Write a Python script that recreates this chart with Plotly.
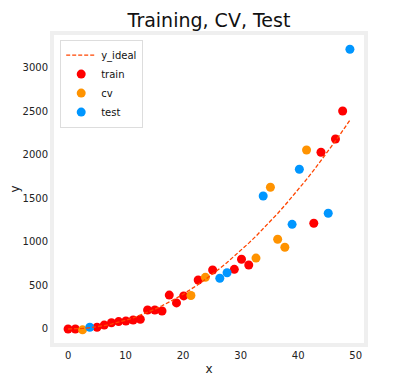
import plotly.graph_objects as go

# ---- data ----
x_train = [0.00, 1.26, 5.03, 6.28, 7.54, 8.79, 10.05, 11.31, 12.56, 13.82, 15.08, 16.33,
           17.59, 18.85, 20.10, 22.62, 25.13, 28.90, 30.15, 31.41, 42.72, 43.97, 46.49, 47.74]
y_train = [0, 0, 20, 45, 72, 85, 92, 103, 112, 218, 218, 207,
           390, 300, 380, 563, 678, 686, 801, 736, 1215, 2031, 2184, 2506]

x_cv = [2.51, 21.36, 23.87, 32.67, 35.18, 36.44, 37.69, 41.46]
y_cv = [-10, 385, 594, 815, 1629, 1031, 939, 2057]

x_test = [3.77, 26.38, 27.64, 33.92, 38.95, 40.21, 45.23, 49.00]
y_test = [20, 583, 647, 1529, 1203, 1836, 1330, 3215]

x_ideal = [0.00, 1.26, 2.51, 3.77, 5.03, 6.28, 7.54, 8.79, 10.05, 11.31, 12.56, 13.82,
           15.08, 16.33, 17.59, 18.85, 20.10, 21.36, 22.62, 23.87, 25.13, 26.38, 27.64,
           28.90, 30.15, 31.41, 32.67, 33.92, 35.18, 36.44, 37.69, 38.95, 40.21, 41.46,
           42.72, 43.97, 45.23, 46.49, 47.74, 49.00]
y_ideal = [0, 1.6, 6.3, 14.2, 25.3, 39.5, 56.8, 77.3, 101, 128, 158, 191,
           227, 267, 309, 355, 404, 456, 512, 570, 631, 696, 764,
           835, 909, 987, 1067, 1151, 1238, 1328, 1421, 1517, 1617, 1719,
           1825, 1934, 2046, 2161, 2279, 2401]

x_ticks = [0, 10, 20, 30, 40, 50]
y_ticks = [0, 500, 1000, 1500, 2000, 2500, 3000]

FONT = "DejaVu Sans"

fig = go.Figure()
fig.add_trace(go.Scatter(x=x_train, y=y_train, mode="markers", name="train",
                         marker=dict(color="#FF0000", size=9, line=dict(width=0)),
                         legendrank=2))
fig.add_trace(go.Scatter(x=x_cv, y=y_cv, mode="markers", name="cv",
                         marker=dict(color="#FF9300", size=9, line=dict(width=0)),
                         legendrank=3))
fig.add_trace(go.Scatter(x=x_test, y=y_test, mode="markers", name="test",
                         marker=dict(color="#0096FF", size=9, line=dict(width=0)),
                         legendrank=4))
fig.add_trace(go.Scatter(x=x_ideal, y=y_ideal, mode="lines", name="y_ideal",
                         line=dict(color="#FF4500", width=1.3, dash="4px,2px"),
                         legendrank=1))

axis_common = dict(showgrid=False, zeroline=False, ticks="", showline=True,
                   linecolor="#efefef", linewidth=4, mirror=True, automargin=False,
                   tickfont=dict(family=FONT, size=10, color="#222222"))

# The page body has an 8px default margin, so the figure is sized to fill the
# remaining 391x373 of the 399x381 window.
fig.update_layout(
    width=391, height=373,
    margin=dict(l=46, r=35, t=27, b=38),
    paper_bgcolor="white", plot_bgcolor="white",
    font=dict(family=FONT, color="#222222"),
    title=dict(text="Training, CV, Test", x=0.514, xanchor="center",
               y=0.967, yanchor="middle", automargin=False,
               font=dict(family=FONT, size=19, color="#111111")),
    xaxis=dict(range=[-2.45, 51.45], tickvals=x_ticks,
               title=dict(text="x", font=dict(family=FONT, size=12), standoff=6),
               **axis_common),
    yaxis=dict(range=[-161, 3379], tickvals=y_ticks,
               title=dict(text="y", font=dict(family=FONT, size=12), standoff=8),
               **axis_common),
    showlegend=True,
    legend=dict(x=0.02, y=0.985, xanchor="left", yanchor="top",
                bgcolor="white", bordercolor="#dddddd", borderwidth=1,
                font=dict(family=FONT, size=10, color="#111111"),
                tracegroupgap=0, itemwidth=30),
)

fig.write_html("out.html")
